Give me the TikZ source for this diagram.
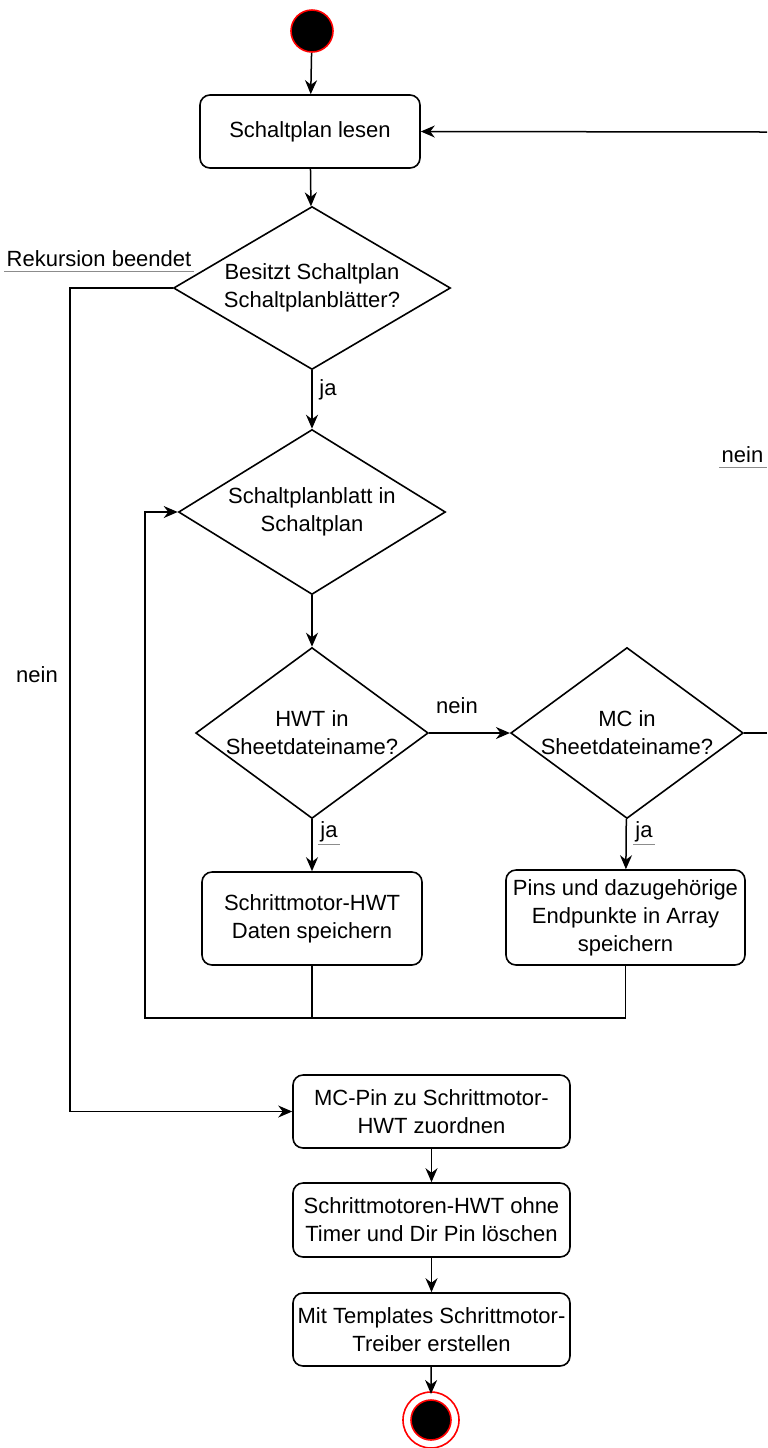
\documentclass[tikz,border=0pt]{standalone}
\usepackage{fontspec}
\setmainfont{Liberation Sans}
\usetikzlibrary{shapes.geometric,arrows.meta}
\tikzset{
	aktion/.style={draw, rounded corners=5pt, line width=0.8pt, align=center, inner sep=2pt},
	entscheid/.style={draw, diamond, line width=0.8pt, align=center, inner sep=0pt},
	startpunkt/.style={circle, fill=black, draw=red, line width=0.8pt, minimum size=21pt, inner sep=0pt},
	endpunkt/.style={circle, fill=black, draw=red, line width=0.8pt, minimum size=20pt, inner sep=0pt},
	pfeil/.style={line width=0.75pt, -{Stealth[length=7pt,width=6pt]}},
	linie/.style={line width=0.75pt},
	beschr/.style={inner sep=1pt},
	unterstr/.style={line width=0.6pt, color=black!45},
}

\begin{document}
\begin{tikzpicture}[x=0.5pt, y=-0.5pt, font=\fontsize{11}{14}\selectfont]
			%%%%% START %%%%%
			\useasboundingbox (0,0) rectangle (767,1448);
			
			\node[startpunkt] (start) at (312,31) {};
			\node[aktion, minimum width=110pt, minimum height=36.5pt] (lesen) at (310,131.5) {Schaltplan lesen};
			
			\node[entscheid, minimum width=138.5pt, minimum height=81.5pt, aspect=1.7] (besitzt) at (312,288) {Besitzt Schaltplan\\Schaltplanblätter?};
			\node[entscheid, minimum width=133.5pt, minimum height=82.5pt, aspect=1.6] (blatt) at (312,512) {Schaltplanblatt in\\Schaltplan};
			\node[entscheid, minimum width=112.5pt, minimum height=82.5pt, aspect=1.36] (hwt) at (312,733) {HWT in\\Sheetdateiname?};
			\node[entscheid, minimum width=112.5pt, minimum height=82.5pt, aspect=1.36] (mc) at (627,733) {MC in\\Sheetdateiname?};
			
			\node[aktion, minimum width=110pt, minimum height=46.5pt] (hwtdaten) at (312,918.5) {Schrittmotor-HWT\\Daten speichern};
			\node[aktion, minimum width=119.5pt, minimum height=47.5pt] (pins) at (625.5,917.5) {Pins und dazugehörige\\Endpunkte in Array\\speichern};
			
			\node[aktion, minimum width=138.5pt, minimum height=36.5pt] (zuordnen) at (431.5,1111.5) {MC-Pin zu Schrittmotor-\\HWT zuordnen};
			\node[aktion, minimum width=138.5pt, minimum height=37pt] (loeschen) at (431.5,1220) {Schrittmotoren-HWT ohne\\Timer und Dir Pin löschen};
			\node[aktion, minimum width=138.5pt, minimum height=36.5pt] (treiber) at (431.5,1329.5) {Mit Templates Schrittmotor-\\Treiber erstellen};
			
			\node[endpunkt] (ende) at (431,1420) {};
			\draw[red, line width=0.8pt] (ende.center) circle (14pt);
			
			% Beschriftungen
			\node[beschr] (rekursion) at (99,259) {Rekursion beendet};
			\draw[unterstr] ([yshift=-1pt]rekursion.south west) -- ([yshift=-1pt]rekursion.south east);
			\node[beschr] (ja1) at (328,390) {ja};
			\node[beschr] (nein1) at (37,675) {nein};
			\node[beschr] (nein2) at (457,706) {nein};
			\node[beschr] (ja2) at (329,832) {ja};
			\draw[unterstr] (ja2.south west) -- (ja2.south east);
			\node[beschr] (ja3) at (644,832) {ja};
			\draw[unterstr] (ja3.south west) -- (ja3.south east);
			\node[beschr] (nein3) at (742.5,455) {nein};
			\draw[unterstr] ([yshift=-1pt]nein3.south west) -- ([yshift=-1pt]nein3.south west -| 767,0);
			
			% Verbindungen
			\coordinate (links) at (70,1111.5);
			\coordinate (schleife) at (145,1018);
			\coordinate (rechtsOben) at (767,132);
			\coordinate (rechtsMitte) at (767,733);
			
			\draw[pfeil] (start) -- (lesen);
			\draw[pfeil] (lesen) -- (besitzt);
			\draw[pfeil] (besitzt) -- (blatt);
			\draw[pfeil] (blatt) -- (hwt);
			\draw[pfeil] (hwt) -- (mc);
			\draw[pfeil] (hwt) -- (hwtdaten);
			\draw[pfeil] (mc) -- (pins);
			\draw[linie] (mc.east) -- (rechtsMitte);
			\draw[pfeil] (rechtsOben) -- (lesen.east);
			
			\draw[pfeil] (besitzt.west) -| (links) -- (zuordnen.west);
			\draw[pfeil] (pins.south) |- (schleife) |- (blatt.west);
			\draw[linie] (hwtdaten.south) -- (hwtdaten.south |- schleife);
			
			\draw[pfeil] (zuordnen) -- (loeschen);
			\draw[pfeil] (loeschen) -- (treiber);
			\draw[pfeil] (treiber) -- ([yshift=-1pt]ende.north |- 0,1392);
			%%%%% END %%%%%
		\end{tikzpicture}
\end{document}
